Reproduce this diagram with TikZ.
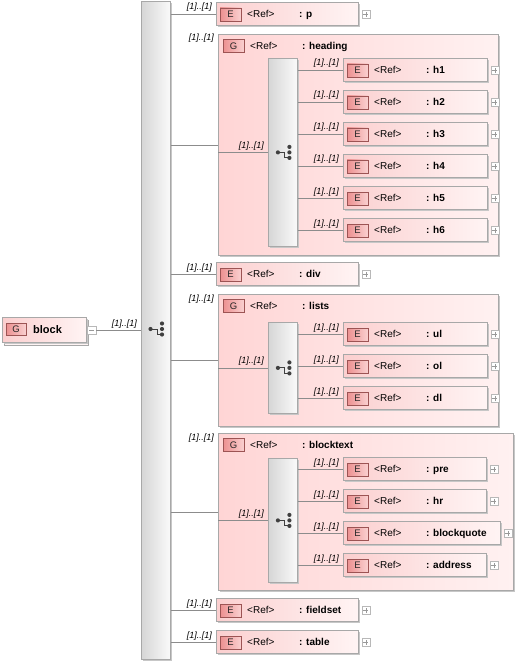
\documentclass[tikz,border=0pt]{standalone}
\usepackage{fontspec}
\setmainfont{Liberation Sans}
\usetikzlibrary{shadows,calc}
\definecolor{linec}{HTML}{8C8C8C}
\definecolor{boxb}{HTML}{A8A8A8}
\definecolor{pinkL}{HTML}{FBCFCF}
\definecolor{pinkR}{HTML}{FFF4F4}
\definecolor{grpL}{HTML}{FFD5D5}
\definecolor{grpR}{HTML}{FFF1F1}
\definecolor{badgeL}{HTML}{EC9090}
\definecolor{badgeR}{HTML}{FAD0D0}
\definecolor{badgeB}{HTML}{9C5454}
\definecolor{barL}{HTML}{D6D6D6}
\definecolor{barR}{HTML}{FAFAFA}
\tikzset{
  shad/.style={drop shadow={shadow xshift=1.5pt,shadow yshift=-1.5pt,fill=black!22,opacity=1}},
  elembox/.style={draw=boxb, line width=0.8pt, left color=pinkL, right color=pinkR,
    minimum height=23pt, inner sep=0pt, anchor=west, shad},
  grpbox/.style={draw=boxb, line width=0.8pt, left color=grpL, right color=grpR,
    inner sep=0pt, anchor=north west, shad},
  badge/.style={draw=badgeB, line width=0.6pt, left color=badgeL, right color=badgeR,
    minimum width=21pt, minimum height=13pt, inner sep=0pt,
    font=\fontsize{9.5}{10}\selectfont, text=black!85},
  reftxt/.style={font=\fontsize{10}{12}\selectfont, inner sep=0pt, anchor=base west},
  nametxt/.style={font=\bfseries\fontsize{10}{12}\selectfont, inner sep=0pt, anchor=base west},
  mult/.style={font=\itshape\fontsize{9}{10}\selectfont, inner sep=0pt, anchor=base east, text=black},
  conn/.style={draw=linec, line width=0.7pt},
  barbox/.style={draw=boxb, line width=0.8pt, left color=barL, right color=barR,
    inner sep=0pt, anchor=north west, shad},
  plusbox/.style={draw=black!28, fill=white, line width=0.5pt, minimum size=8pt, inner sep=0pt,
    path picture={\draw[black!40, line width=0.6pt]
      ([xshift=-2.5pt]path picture bounding box.center) -- ([xshift=2.5pt]path picture bounding box.center)
      ([yshift=-2.5pt]path picture bounding box.center) -- ([yshift=2.5pt]path picture bounding box.center);}},
  minusbox/.style={draw=black!28, fill=white, line width=0.5pt, minimum size=8.5pt, inner sep=0pt,
    path picture={\draw[black!40, line width=0.6pt]
      ([xshift=-2.5pt]path picture bounding box.center) -- ([xshift=2.5pt]path picture bounding box.center);}},
  choiceicon/.pic={
    \draw[black!75, line width=1pt] (-5.5pt,0pt) -- (1pt,0pt) -- (1pt,-5.5pt) -- (6pt,-5.5pt);
    \fill[black!75] (-5.5pt,0pt) circle (2.1pt);
    \fill[black!75] (6pt,5.5pt) circle (2.1pt) (6pt,0pt) circle (2.1pt) (6pt,-5.5pt) circle (2.1pt);
  }
}
\newcommand\elem[5]{%
  \node[elembox, minimum width=#4pt] (#1) at (#2,#3) {};
  \node[badge] (#1-b) at ([xshift=14.5pt,yshift=-0.5pt]#1.west) {E};
  \node[reftxt] (#1-r) at ([xshift=31pt,yshift=-3.6pt]#1.west) {<Ref>};
  \node[nametxt] (#1-n) at ([xshift=83pt,yshift=-3.6pt]#1.west) {: #5};
  \node[plusbox] (#1-p) at ([xshift=7pt,yshift=-0.5pt]#1.east) {};
}
\newcommand\grp[6]{%
  \node[grpbox, minimum width=#4pt, minimum height=#5pt] (#1) at (#2,#3) {};
  \node[badge] (#1-b) at ([xshift=15.5pt,yshift=-12pt]#1.north west) {G};
  \node[reftxt] (#1-r) at ([xshift=32pt,yshift=-15.6pt]#1.north west) {<Ref>};
  \node[nametxt] (#1-n) at ([xshift=84pt,yshift=-15.6pt]#1.north west) {: #6};
  \node[mult] (#1-m) at ([xshift=-4pt,yshift=-7pt]#1.north west) {[1]..[1]};
}
\newcommand\link[2]{% bar, child (element)
  \draw[conn] (#2.west -| #1.east) -- (#2.west);
  \node[mult] (#2-m) at ([xshift=-4pt,yshift=4pt]#2.west) {[1]..[1]};
}
\begin{document}
\begin{tikzpicture}[x=1pt,y=-1pt]
\useasboundingbox (0,0) rectangle (520,663);

% root block
\node[draw=boxb, line width=0.8pt, fill=pinkR, minimum width=84pt, minimum height=25pt,
  inner sep=0pt, anchor=north west] (blockback) at (4,319.5) {};
\node[draw=boxb, line width=0.8pt, left color=pinkL, right color=pinkR, minimum width=84pt,
  minimum height=25pt, inner sep=0pt, anchor=north west, shad] (block) at (2,317) {};
\node[badge, minimum width=20pt, minimum height=12pt] (block-b) at (16,329) {G};
\node[nametxt, font=\bfseries\fontsize{11}{13}\selectfont] (block-n) at (33,333) {block};
\node[minusbox] (block-minus) at (91.5,330) {};

% main choice bar
\node[barbox, minimum width=29pt, minimum height=658pt] (mainbar) at (141,1) {};
\pic at (156,329) {choiceicon};
\draw[conn] (block-minus.east) -- (block-minus.east -| mainbar.west);
\node[mult] (block-m) at ([xshift=-4pt,yshift=4pt]block-minus.east -| mainbar.west) {[1]..[1]};

% p
\elem{p}{216}{14}{142}{p}
\link{mainbar}{p}

% heading group
\grp{heading}{218}{34}{280}{221}{heading}
\draw[conn] (heading.west -| mainbar.east) -- (heading.west);
\node[barbox, minimum width=29pt, minimum height=188pt] (hbar) at (268,58) {};
\pic at ($(hbar.center)+(0.5,0)$) {choiceicon};
\draw[conn] (hbar.west -| heading.west) -- (hbar.west);
\node[mult] (hbar-m) at ([xshift=-4pt,yshift=4pt]hbar.west) {[1]..[1]};
\elem{h1}{343}{70}{144}{h1}
\elem{h2}{343}{102}{144}{h2}
\elem{h3}{343}{134}{144}{h3}
\elem{h4}{343}{166}{144}{h4}
\elem{h5}{343}{198}{144}{h5}
\elem{h6}{343}{230}{144}{h6}
\link{hbar}{h1}\link{hbar}{h2}\link{hbar}{h3}
\link{hbar}{h4}\link{hbar}{h5}\link{hbar}{h6}

% div
\elem{div}{216}{274}{142}{div}
\link{mainbar}{div}

% lists group
\grp{lists}{218}{294}{280}{132}{lists}
\draw[conn] (lists.west -| mainbar.east) -- (lists.west);
\node[barbox, minimum width=29pt, minimum height=91pt] (lbar) at (268,322) {};
\pic at ($(lbar.center)+(0.5,0)$) {choiceicon};
\draw[conn] (lbar.west -| lists.west) -- (lbar.west);
\node[mult] (lbar-m) at ([xshift=-4pt,yshift=4pt]lbar.west) {[1]..[1]};
\elem{ul}{343}{334}{144}{ul}
\elem{ol}{343}{366}{144}{ol}
\elem{dl}{343}{398}{144}{dl}
\link{lbar}{ul}\link{lbar}{ol}\link{lbar}{dl}

% blocktext group
\grp{blocktext}{218}{433}{295}{157}{blocktext}
\draw[conn] (blocktext.west -| mainbar.east) -- (blocktext.west);
\node[barbox, minimum width=29pt, minimum height=124pt] (bbar) at (268,458) {};
\pic at ($(bbar.center)+(0.5,0)$) {choiceicon};
\draw[conn] (bbar.west -| blocktext.west) -- (bbar.west);
\node[mult] (bbar-m) at ([xshift=-4pt,yshift=4pt]bbar.west) {[1]..[1]};
\elem{pre}{343}{469}{143}{pre}
\elem{hr}{343}{501}{143}{hr}
\elem{blockquote}{343}{533}{157}{blockquote}
\elem{address}{343}{565}{143}{address}
\link{bbar}{pre}\link{bbar}{hr}\link{bbar}{blockquote}\link{bbar}{address}

% fieldset, table
\elem{fieldset}{216}{610}{142}{fieldset}
\elem{table}{216}{642}{142}{table}
\link{mainbar}{fieldset}
\link{mainbar}{table}
\end{tikzpicture}
\end{document}
